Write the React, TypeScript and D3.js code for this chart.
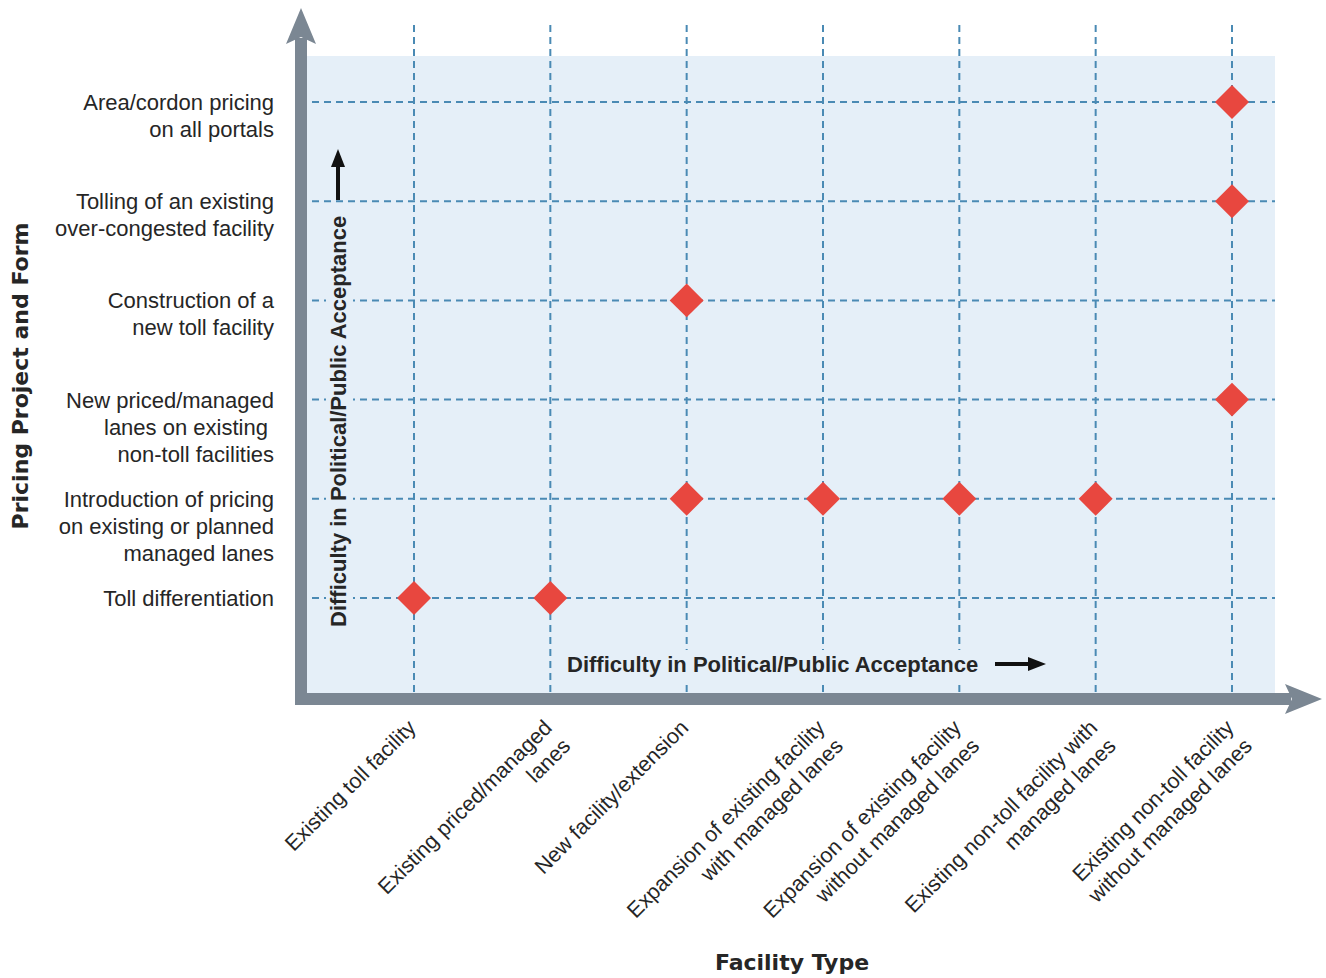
import React from "react";
import * as d3 from "d3";

const facilityTypes = [
  "Existing toll facility",
  "Existing priced/managed\nlanes",
  "New facility/extension",
  "Expansion of existing facility\nwith managed lanes",
  "Expansion of existing facility\nwithout managed lanes",
  "Existing non-toll facility with\nmanaged lanes",
  "Existing non-toll facility\nwithout managed lanes",
];

const pricingForms = [
  "Toll differentiation",
  "Introduction of pricing\non existing or planned\nmanaged lanes",
  "New priced/managed\nlanes on existing\u00a0\nnon-toll facilities",
  "Construction of a\nnew toll facility",
  "Tolling of an existing\nover-congested facility",
  "Area/cordon pricing\non all portals",
];

// [facility index, pricing form index]
const pointFacility = [0, 1, 2, 3, 4, 5, 6, 2, 6, 6];
const pointForm = [0, 0, 1, 1, 1, 1, 2, 3, 4, 5];

const W = 1326;
const H = 978;
const FONT = "'Liberation Sans', Arial, Helvetica, sans-serif";
const BOLD = "'DejaVu Sans', 'Liberation Sans', Arial, sans-serif";
const TEXT = "#262626";
const GRID = "#4a8ab4";
const AXIS = "#7b8793";
const PANEL = "#e5eff8";
const RED = "#e8473f";

export default function App() {
  const x = d3.scalePoint<string>().domain(facilityTypes).range([414, 1232]);
  const y = d3.scalePoint<string>().domain(pricingForms).range([598, 102]);

  const panel = { x0: 307, x1: 1275, y0: 56, y1: 693 };
  const diamond = d3.symbol().type(d3.symbolSquare).size(24 * 24)();

  return (
    <svg width={W} height={H} style={{ display: "block", position: "absolute", left: 0, top: 0 }}>
      <rect x={0} y={0} width={W} height={H} fill="#ffffff" />
      <rect x={panel.x0} y={panel.y0} width={panel.x1 - panel.x0} height={panel.y1 - panel.y0} fill={PANEL} />

      {/* grid */}
      {facilityTypes.map((f) => (
        <line key={f} x1={x(f)} x2={x(f)} y1={25} y2={panel.y1} stroke={GRID} strokeWidth={2} strokeDasharray="7,5" />
      ))}
      {pricingForms.map((p) => (
        <line key={p} x1={312} x2={panel.x1} y1={y(p)} y2={y(p)} stroke={GRID} strokeWidth={2} strokeDasharray="7,5" />
      ))}

      {/* axes */}
      <rect x={295} y={38} width={12} height={667} fill={AXIS} />
      <path d="M301,8 L316,44 L301,37 L286,44 Z" fill={AXIS} />
      <rect x={295} y={693} width={996} height={12} fill={AXIS} />
      <path d="M1322,699 L1285,684 L1292,699 L1285,714 Z" fill={AXIS} />

      {/* points */}
      {pointFacility.map((fi, i) => (
        <path
          key={i}
          d={diamond as string}
          transform={`translate(${x(facilityTypes[fi])},${y(pricingForms[pointForm[i]])}) rotate(45)`}
          fill={RED}
        />
      ))}

      {/* y tick labels */}
      {pricingForms.map((p) => (
        <text key={p} x={274} y={y(p)} textAnchor="end" fontFamily={FONT} fontSize={22} fill={TEXT} dominantBaseline="central">
          {p.split("\n").map((line, j) => (
            <tspan key={j} x={274} dy={j === 0 ? 0 : 27}>{line}</tspan>
          ))}
        </text>
      ))}

      {/* x tick labels */}
      {facilityTypes.map((f) => (
        <text
          key={f}
          transform={`translate(${(x(f) as number) + 3},${729}) rotate(-45)`}
          textAnchor="end"
          fontFamily={FONT}
          fontSize={21.5}
          fill={TEXT}
        >
          {f.split("\n").map((line, j) => (
            <tspan key={j} x={0} dy={j === 0 ? 0 : 26}>{line}</tspan>
          ))}
        </text>
      ))}

      {/* inner difficulty labels */}
      <rect x={562} y={650} width={424} height={30} fill={PANEL} />
      <text x={567} y={672} fontFamily={FONT} fontSize={22} fontWeight="bold" fill={TEXT}>
        Difficulty in Political/Public Acceptance
      </text>
      <line x1={995} y1={664} x2={1030} y2={664} stroke="#111" strokeWidth={4} />
      <path d="M1046,664 L1028,657 L1028,671 Z" fill="#111" />

      <rect x={326} y={210} width={27} height={422} fill={PANEL} />
      <text transform="translate(346,627) rotate(-90)" fontFamily={FONT} fontSize={22} fontWeight="bold" fill={TEXT}>
        Difficulty in Political/Public Acceptance
      </text>
      <line x1={338} y1={200} x2={338} y2={165} stroke="#111" strokeWidth={4} />
      <path d="M338,149 L331,167 L345,167 Z" fill="#111" />

      {/* axis titles */}
      <text transform="translate(28,376) rotate(-90)" textAnchor="middle" fontFamily={BOLD} fontSize={22} fontWeight="bold" fill={TEXT}>
        Pricing Project and Form
      </text>
      <text x={792} y={970} textAnchor="middle" fontFamily={BOLD} fontSize={22} fontWeight="bold" fill={TEXT}>
        Facility Type
      </text>
    </svg>
  );
}
